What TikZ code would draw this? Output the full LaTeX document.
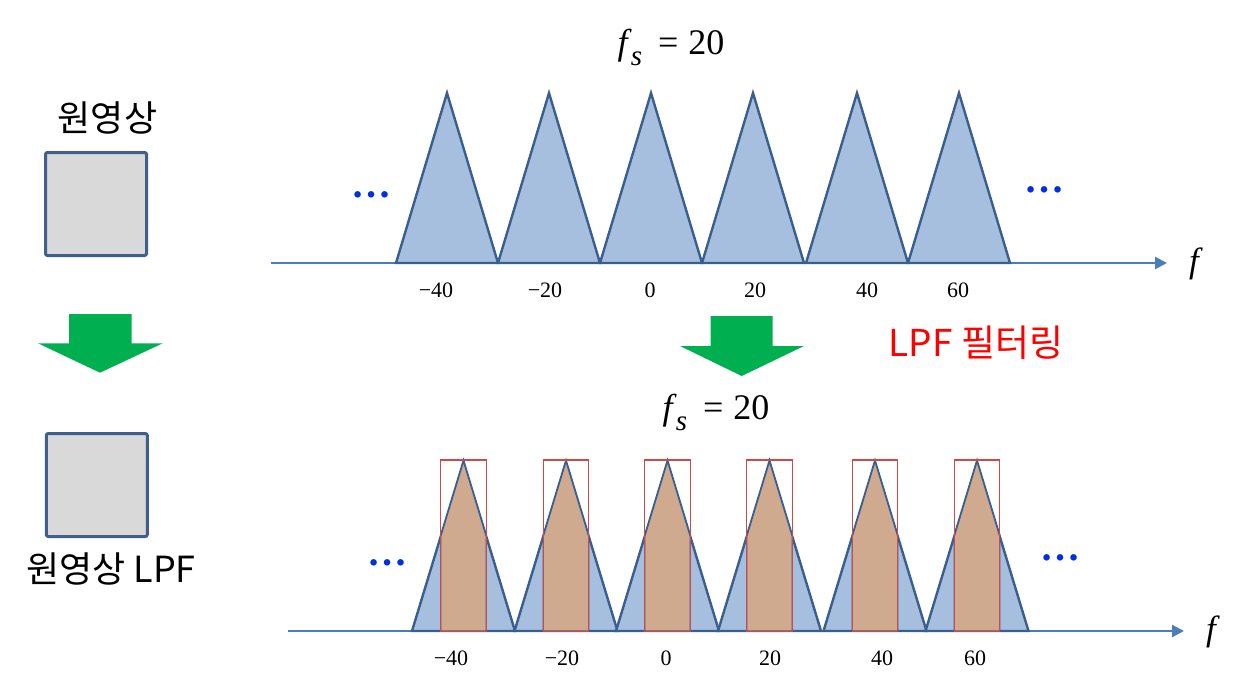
\documentclass[tikz,border=0pt]{standalone}
\usepackage{fontspec}
\setmainfont{Liberation Serif}
\newfontfamily\krfont{Noto Sans CJK KR}
\usetikzlibrary{arrows.meta}
\definecolor{trifill}{HTML}{A7BFDE}
\definecolor{triline}{HTML}{3A5F8E}
\definecolor{axisblue}{HTML}{4A7EBB}
\definecolor{brownfill}{HTML}{CFAA8E}
\definecolor{redline}{HTML}{D04848}
\definecolor{arrowgreen}{HTML}{00B050}
\definecolor{boxgray}{HTML}{D9D9D9}
\definecolor{boxline}{HTML}{3F5F8C}
\definecolor{dotblue}{HTML}{0030E0}
\definecolor{lpfred}{HTML}{FF0000}
\tikzset{
  axisline/.style={draw=axisblue, line width=2.4pt, -{Triangle[length=12pt,width=12pt]}},
  spectri/.style={fill=trifill, draw=triline, line width=2.4pt, line join=miter},
  lpfshape/.style={fill=brownfill, draw=triline, line width=1.2pt},
  lpfrect/.style={draw=redline, line width=1.2pt},
  imgbox/.style={draw=boxline, fill=boxgray, line width=3pt, rounded corners=2pt, minimum width=101pt, minimum height=103pt, inner sep=0pt},
  krtext/.style={font=\krfont\fontsize{36}{40}\selectfont, inner sep=0pt},
  ticklab/.style={font=\fontsize{22}{25}\selectfont, inner sep=0pt},
  fslab/.style={font=\fontsize{36}{40}\selectfont, inner sep=0pt},
  flab/.style={font=\fontsize{35}{39}\selectfont\itshape, inner sep=0pt},
  dotslab/.style={font=\fontsize{40}{44}\selectfont\bfseries, text=dotblue, inner sep=0pt, anchor=base},
  bigarrow/.style={fill=arrowgreen}
}
\newcommand{\fsTwenty}{\textit{f}\kern-1pt\raisebox{-11pt}{\fontsize{29}{29}\selectfont\itshape s}\hspace{16pt}=\hspace{10pt}20}
\begin{document}
\begin{tikzpicture}[x=1pt,y=-1pt]
\useasboundingbox (0,0) rectangle (1239,677);

% ---------- left column ----------
\node[krtext] (origlabel) at (107.5,118) {원영상};
\node[imgbox] (origbox) at (96,204) {};
\fill[bigarrow] (69,314) -- (131.7,314) -- (131.7,343.3) -- (162.7,343.3) -- (100,372.7) -- (38,343.3) -- (69,343.3) -- cycle;
\node[imgbox] (lpfbox) at (96.8,485) {};
\node[krtext] (lpflabel) at (111,569) {원영상 LPF};

% ---------- top spectrum ----------
\node[fslab] (fstop) at (671,47) {\fsTwenty};
\coordinate (topaxisL) at (271,263);
\coordinate (topaxisR) at (1167,263);
\draw[axisline] (topaxisL) -- (topaxisR);
\foreach \c in {447,549,651,753,857,959}{
  \draw[spectri] (\c-51,263) -- (\c,93) -- (\c+51,263) -- cycle;
}
\node[flab] (ftop) at (1194,264) {f};
\node[dotslab] (dotsTL) at (371,197) {…};
\node[dotslab] (dotsTR) at (1044,192) {…};
\node[ticklab] (t1) at (436,290) {−40};
\node[ticklab] (t2) at (545,290) {−20};
\node[ticklab] (t3) at (650,290) {0};
\node[ticklab] (t4) at (755,290) {20};
\node[ticklab] (t5) at (867,290) {40};
\node[ticklab] (t6) at (958,290) {60};

% ---------- middle ----------
\fill[bigarrow] (710.7,316) -- (772.7,316) -- (772.7,346) -- (804,346) -- (741.7,376) -- (680,346) -- (710.7,346) -- cycle;
\node[krtext, text=lpfred, font=\krfont\fontsize{37}{40}\selectfont] (lpftxt) at (976,343) {LPF 필터링};

% ---------- bottom spectrum ----------
\node[fslab] (fsbot) at (716,412) {\fsTwenty};
\coordinate (botaxisL) at (288,631);
\coordinate (botaxisR) at (1184,631);
\draw[axisline] (botaxisL) -- (botaxisR);
\foreach \c in {463.5,566,667.5,769.5,875,977}{
  \draw[spectri] (\c-51.5,631) -- (\c,461.5) -- (\c+51.5,631) -- cycle;
  \draw[lpfshape] (\c-22.8,631) -- (\c-22.8,536.7) -- (\c,461.5) -- (\c+22.8,536.7) -- (\c+22.8,631) -- cycle;
  \draw[lpfrect] (\c-22.8,460) rectangle (\c+22.8,631.5);
}
\node[flab] (fbot) at (1211,632) {f};
\node[dotslab] (dotsBL) at (387,565) {…};
\node[dotslab] (dotsBR) at (1060,560) {…};
\node[ticklab] (b1) at (451,658) {−40};
\node[ticklab] (b2) at (562,658) {−20};
\node[ticklab] (b3) at (666,658) {0};
\node[ticklab] (b4) at (770,658) {20};
\node[ticklab] (b5) at (882,658) {40};
\node[ticklab] (b6) at (975,658) {60};
\end{tikzpicture}
\end{document}
